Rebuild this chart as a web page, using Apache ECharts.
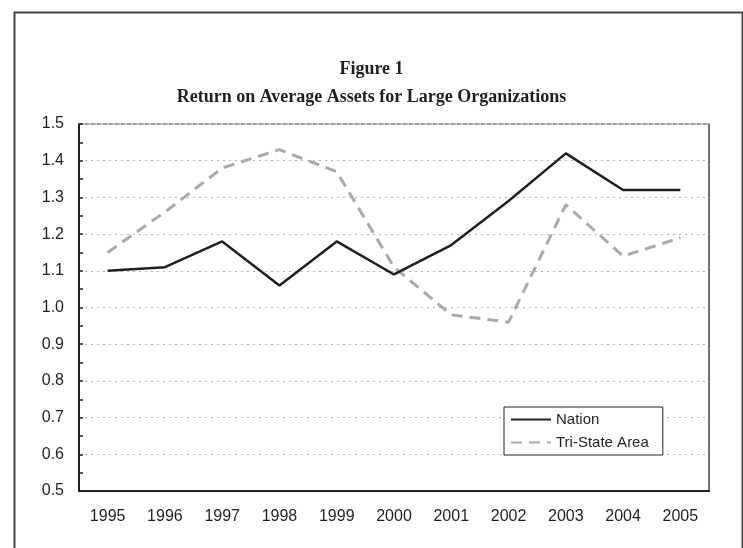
<!DOCTYPE html>
<html>
<head>
<meta charset="utf-8">
<script src="https://cdn.jsdelivr.net/npm/echarts@6/dist/echarts.min.js"></script>
<style>
html,body{margin:0;padding:0;background:#fff;}
#chart{width:743px;height:548px;}
</style>
</head>
<body>
<div id="chart"></div>
<script>
var years = ['1995','1996','1997','1998','1999','2000','2001','2002','2003','2004','2005'];
var nation = [1.10, 1.11, 1.18, 1.06, 1.18, 1.09, 1.17, 1.29, 1.42, 1.32, 1.32];
var triState = [1.15, 1.26, 1.38, 1.43, 1.37, 1.11, 0.98, 0.96, 1.28, 1.14, 1.19];
var seriesNames = ['Nation', 'Tri-State Area'];
var titleLines = ['Figure 1', 'Return on Average Assets for Large Organizations'];
var yMin = 0.5, yMax = 1.5, yStep = 0.1;

var ink = '#231f20';
var chart = echarts.init(document.getElementById('chart'), null, {renderer: 'canvas'});
chart.setOption({
  animation: false,
  backgroundColor: '#fff',
  graphic: [{
    type: 'rect', left: 12, top: 10, z: -10,
    shape: {width: 728, height: 620},
    style: {fill: 'none', stroke: '#444', lineWidth: 2}
  }],
  title: {
    text: titleLines.join('\n'),
    left: 'center', top: 50,
    textStyle: {fontFamily: 'Liberation Serif', fontWeight: 'bold', fontSize: 18, lineHeight: 28, color: ink}
  },
  grid: {left: 79, right: 34, top: 124, bottom: 57, containLabel: false},
  legend: {
    orient: 'vertical', left: 504, top: 407,
    padding: [5, 14, 5, 6], itemGap: 8,
    itemWidth: 40, itemHeight: 14,
    backgroundColor: '#fff', borderColor: ink, borderWidth: 1,
    itemStyle: {opacity: 0},
    textStyle: {fontFamily: 'Liberation Sans', fontSize: 15, color: ink},
    data: seriesNames
  },
  xAxis: [{
    type: 'category', data: years, boundaryGap: true,
    axisLine: {lineStyle: {color: ink, width: 2}},
    axisTick: {inside: true, length: 5, lineStyle: {color: ink, width: 1.5}},
    axisLabel: {fontFamily: 'Liberation Sans', fontSize: 16, color: ink, margin: 18},
    splitLine: {show: false}
  }, {
    type: 'category', data: years, position: 'top', boundaryGap: true,
    axisLine: {lineStyle: {color: '#888', width: 1.5, type: [4, 2]}},
    axisTick: {show: false}, axisLabel: {show: false}, splitLine: {show: false}
  }],
  yAxis: [{
    type: 'value', min: yMin, max: yMax, interval: yStep,
    axisLine: {show: true, lineStyle: {color: ink, width: 2}},
    axisTick: {show: true, inside: true, length: 4, lineStyle: {color: ink, width: 1.5}},
    minorTick: {show: true, splitNumber: 2, length: 4, lineStyle: {color: ink, width: 1.5}},
    axisLabel: {fontFamily: 'Liberation Sans', fontSize: 16, color: ink, margin: 15,
      formatter: function (v) { return v.toFixed(1); }},
    splitLine: {show: true, lineStyle: {color: '#b5b5b5', width: 1, type: [2, 4]}}
  }, {
    type: 'value', min: yMin, max: yMax, interval: yStep, position: 'right',
    axisLine: {show: true, lineStyle: {color: '#444', width: 1.5}},
    axisTick: {show: false}, axisLabel: {show: false}, splitLine: {show: false}
  }],
  series: [{
    name: seriesNames[0], type: 'line', data: nation, symbol: 'none',
    lineStyle: {color: ink, width: 2.5}, itemStyle: {color: ink}, z: 3
  }, {
    name: seriesNames[1], type: 'line', data: triState, symbol: 'none',
    lineStyle: {color: '#aaaaaa', width: 3, type: [11, 7]}, itemStyle: {color: '#aaaaaa'}, z: 2
  }]
});
</script>
</body>
</html>
